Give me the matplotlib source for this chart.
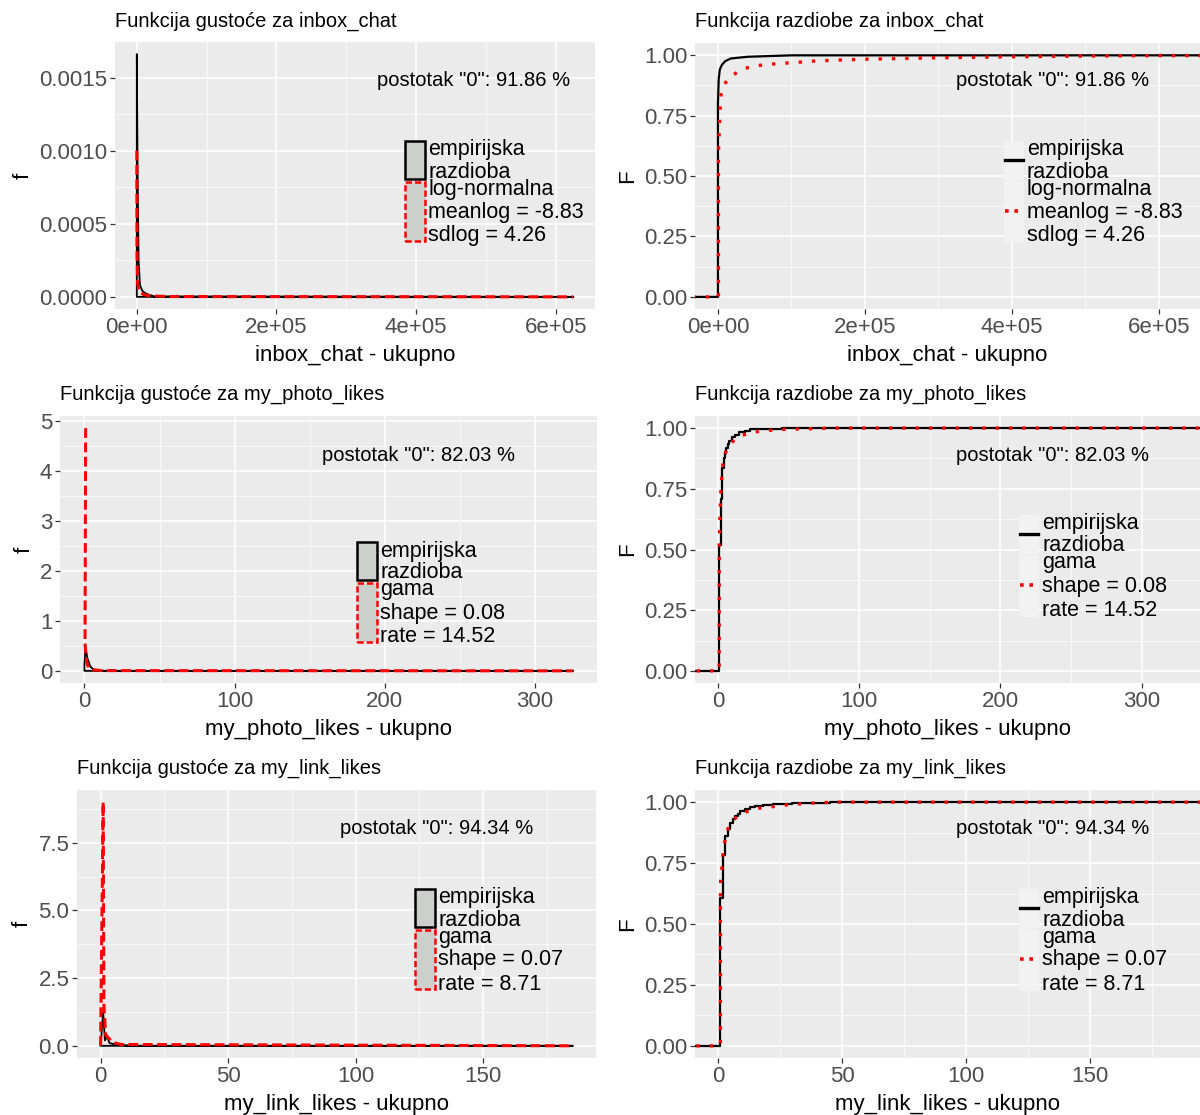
"""Gustoća i funkcija razdiobe za tri varijable (ggplot-like layout)."""
import matplotlib
matplotlib.use('Agg')
import matplotlib.pyplot as plt
from matplotlib.patches import Rectangle
from matplotlib.lines import Line2D

plt.rcParams['font.family'] = ['Liberation Sans', 'DejaVu Sans']

W, H = 1200, 1115

# ---- inbox_chat ----
inbox_dens_emp_x = [625000, 0, 0, 1000, 2500, 4500, 8000, 14000, 25000, 625000]
inbox_dens_emp_y = [0, 0, 0.00166, 0.0009, 0.00025, 0.00008, 0.00004, 0.00002, 0.000003, 0]
inbox_dens_fit_x = [0, 300, 1000, 2500, 5000, 10000, 20000, 50000, 625000]
inbox_dens_fit_y = [0.00100, 0.00030, 0.00010, 0.00005, 0.00003, 0.000015, 0.000006, 0.000002, 0]
inbox_cdf_emp_x = [-1e6, 0, 0, 1000, 2500, 5400, 10000, 17500, 40000, 100000, 1e7]
inbox_cdf_emp_y = [0, 0, 0.80, 0.90, 0.94, 0.96, 0.975, 0.986, 0.993, 0.999, 1.0]
inbox_cdf_fit_x = [-1e6, 700, 700, 3100, 4460, 8500, 16200, 26600, 37800, 52300, 67200,
                   82400, 98600, 129700, 161800, 200000, 300000, 400000, 500000, 600000, 1e7]
inbox_cdf_fit_y = [0, 0, 0.60, 0.79, 0.842, 0.879, 0.908, 0.930, 0.946, 0.956, 0.961,
                   0.965, 0.968, 0.975, 0.979, 0.983, 0.989, 0.993, 0.996, 0.998, 1.0]

# ---- my_photo_likes ----
photo_dens_emp_x = [325, 0, 0, 0.7, 2, 4, 6, 9, 14, 325]
photo_dens_emp_y = [0, 0, 0.12, 0.48, 0.25, 0.085, 0.03, 0.01, 0, 0]
photo_dens_fit_x = [0.8, 0.6, 0.4, 1.0, 2.0, 3.5, 6, 12, 325]
photo_dens_fit_y = [4.85, 2.5, 0.55, 0.3, 0.12, 0.05, 0.02, 0.005, 0]
photo_cdf_emp_x = [-100, 1, 2, 3, 4, 5, 6, 7, 8, 10, 12, 15, 19, 23, 30, 45, 400]
photo_cdf_emp_y = [0, 0.52, 0.71, 0.835, 0.875, 0.90, 0.92, 0.935, 0.948, 0.962, 0.972,
                   0.983, 0.99, 0.995, 0.998, 1.0, 1.0]
photo_cdf_fit_x = [-100, 0.9, 0.94, 1.4, 2.1, 2.6, 3.8, 6.9, 10.9, 16.3, 23.4, 30.5,
                   38.8, 47, 82, 400]
photo_cdf_fit_y = [0, 0, 0.53, 0.635, 0.74, 0.786, 0.878, 0.918, 0.947, 0.969, 0.982,
                   0.988, 0.992, 0.995, 1.0, 1.0]

# ---- my_link_likes ----
link_dens_emp_x = [185, 0, 1, 1.7, 2.5, 3.5, 6, 12, 185]
link_dens_emp_y = [0, 0, 1.25, 0.2, 0.35, 0.1, 0.05, 0, 0]
link_dens_fit_x = [0, 1, 1.3, 2, 3, 5, 8, 185]
link_dens_fit_y = [0, 9.0, 1.5, 0.4, 0.3, 0.12, 0.05, 0]
link_cdf_emp_x = [-100, 1, 2, 3, 4, 5, 6, 7, 8, 9, 11, 13, 15, 18, 22, 30, 45, 400]
link_cdf_emp_y = [0, 0.607, 0.785, 0.86, 0.89, 0.915, 0.93, 0.943, 0.953, 0.962, 0.973,
                  0.98, 0.985, 0.99, 0.994, 0.998, 1.0, 1.0]
link_cdf_fit_x = [-100, 1.0, 1.0, 1.1, 1.6, 2.0, 2.6, 3.4, 4.3, 6.2, 8.5, 11.5, 16.2,
                  22.4, 27.8, 37.1, 47.2, 400]
link_cdf_fit_y = [0, 0, 0.6, 0.681, 0.729, 0.784, 0.829, 0.868, 0.9, 0.927, 0.948, 0.961,
                  0.975, 0.982, 0.989, 0.996, 1.0, 1.0]

variables = ['inbox_chat', 'my_photo_likes', 'my_link_likes']
zero_pct = [91.86, 82.03, 94.34]
fit_labels = [['log-normalna', 'meanlog = -8.83', 'sdlog = 4.26'],
              ['gama', 'shape = 0.08', 'rate = 14.52'],
              ['gama', 'shape = 0.07', 'rate = 8.71']]
emp_label = ['empirijska', 'razdioba']

dens_xticks = [[0, 200000, 400000, 600000], [0, 100, 200, 300], [0, 50, 100, 150]]
dens_xticklabels = [['0e+00', '2e+05', '4e+05', '6e+05'], ['0', '100', '200', '300'],
                    ['0', '50', '100', '150']]
dens_yticks = [[0, 0.0005, 0.0010, 0.0015], [0, 1, 2, 3, 4, 5], [0, 2.5, 5.0, 7.5]]
dens_yticklabels = [['0.0000', '0.0005', '0.0010', '0.0015'], ['0', '1', '2', '3', '4', '5'],
                    ['0.0', '2.5', '5.0', '7.5']]
cdf_yticks = [0, 0.25, 0.5, 0.75, 1.0]
cdf_yticklabels = ['0.00', '0.25', '0.50', '0.75', '1.00']

BG = '#EBEBEB'


def box(x0, y0, x1, y1):
    return [x0 / W, 1 - y1 / H, (x1 - x0) / W, (y1 - y0) / H]


def minors(ticks, lo, hi):
    step = ticks[1] - ticks[0]
    out, v = [], ticks[0] - step / 2
    while v - step > lo:
        v -= step
    while v < hi:
        if lo < v < hi:
            out.append(v)
        v += step
    return out


def style(ax, xlim, ylim, xt, xtl, yt, ytl, xlabel, ylabel, title, title_pad):
    ax.set_facecolor(BG)
    for s in ax.spines.values():
        s.set_visible(False)
    ax.set_xlim(xlim)
    ax.set_ylim(ylim)
    ax.set_xticks(xt)
    ax.set_xticklabels(xtl)
    ax.set_yticks(yt)
    ax.set_yticklabels(ytl)
    ax.set_xticks(minors(xt, *xlim), minor=True)
    ax.set_yticks(minors(yt, *ylim), minor=True)
    ax.grid(which='major', color='white', lw=1.1)
    ax.grid(which='minor', color='white', lw=0.5)
    ax.set_axisbelow(True)
    ax.tick_params(which='minor', length=0)
    ax.tick_params(which='major', length=3.5, width=0.9, color='#333333',
                   labelcolor='#4D4D4D', labelsize=16, pad=2)
    ax.set_xlabel(xlabel, fontsize=16, labelpad=5)
    ax.set_ylabel(ylabel, fontsize=16, labelpad=4)
    ax.set_title(title, loc='left', fontsize=14.5, pad=title_pad)


def expand(lo, hi):
    d = (hi - lo) * 0.05
    return (lo - d, hi + d)


def legend(fig, key_left, y0, fit_lines, kind):
    # entry rows (pixel offsets from first line)
    emp_off = [0, 22]
    fit_off = [39, 62, 86]
    k1 = (y0 - 9, y0 + 29)
    k2 = (y0 + 31, y0 + 91)
    kw = 20

    def rect(top, bot, **kw_):
        return Rectangle((key_left / W, 1 - bot / H), kw / W, (bot - top) / H,
                         transform=fig.transFigure, **kw_)

    if kind == 'dens':
        fig.patches.append(rect(*k1, facecolor='#CDCFCD', edgecolor='black', lw=1.8))
        fig.patches.append(rect(k2[0] + 1, k2[1], facecolor='#CDCFCD', edgecolor='red',
                                lw=1.8, linestyle=(0, (2.5, 1.2))))
    else:
        fig.patches.append(rect(k1[0], k1[1] + 1, facecolor='#F2F2F2', edgecolor='none'))
        fig.patches.append(rect(k2[0], k2[1] + 2, facecolor='#F2F2F2', edgecolor='none'))
        ym = (k1[0] + k1[1]) / 2
        fig.lines.append(Line2D([(key_left + 1) / W, (key_left + kw - 1) / W],
                                [1 - ym / H] * 2, transform=fig.transFigure,
                                color='black', lw=2.4))
        ym = (k2[0] + k2[1]) / 2
        fig.lines.append(Line2D([(key_left + 1) / W, (key_left + kw - 1) / W],
                                [1 - ym / H] * 2, transform=fig.transFigure,
                                color='red', lw=2.6, dashes=(1, 1.6)))
    tx = (key_left + 23) / W
    for lab, off in zip(emp_label, emp_off):
        fig.text(tx, 1 - (y0 + off) / H, lab, fontsize=15.5, va='center', ha='left')
    for lab, off in zip(fit_lines, fit_off):
        fig.text(tx, 1 - (y0 + off) / H, lab, fontsize=15.5, va='center', ha='left')


fig = plt.figure(figsize=(W / 100, H / 100), dpi=100)

dens_data = [(inbox_dens_emp_x, inbox_dens_emp_y, inbox_dens_fit_x, inbox_dens_fit_y),
             (photo_dens_emp_x, photo_dens_emp_y, photo_dens_fit_x, photo_dens_fit_y),
             (link_dens_emp_x, link_dens_emp_y, link_dens_fit_x, link_dens_fit_y)]
cdf_data = [(inbox_cdf_emp_x, inbox_cdf_emp_y, inbox_cdf_fit_x, inbox_cdf_fit_y),
            (photo_cdf_emp_x, photo_cdf_emp_y, photo_cdf_fit_x, photo_cdf_fit_y),
            (link_cdf_emp_x, link_cdf_emp_y, link_cdf_fit_x, link_cdf_fit_y)]

# panel boxes in pixels: (left, top, right, bottom)
dens_boxes = [(115, 42, 595, 309), (60, 416, 597, 683), (77, 790, 596, 1058)]
cdf_boxes = [(695, 43, 1200, 309), (695, 416, 1200, 683), (695, 790, 1200, 1058)]
dens_legend = [(405, 150), (357, 551), (415, 898)]
cdf_legend = [(1004, 150), (1019, 524), (1019, 898)]
dens_note = [(474, 81), (419, 455), (437, 829)]
cdf_note = [(1053, 81), (1053, 455), (1053, 829)]

for i, var in enumerate(variables):
    ex, ey, fx_, fy_ = dens_data[i]
    xmax = max(ex)
    ymax = max(max(ey), max(fy_))
    ax = fig.add_axes(box(*dens_boxes[i]))
    ax.plot(ex, ey, color='black', lw=1.3, zorder=3)
    ax.plot(fx_, fy_, color='red', lw=2.2, dashes=(3.2, 1.5), zorder=4)
    style(ax, expand(0, xmax), expand(0, ymax), dens_xticks[i], dens_xticklabels[i],
          dens_yticks[i], dens_yticklabels[i], f'{var} - ukupno', 'f',
          f'Funkcija gustoće za {var}', 12 if i != 0 else 11)
    nx, ny = dens_note[i]
    fig.text(nx / W, 1 - ny / H, f'postotak "0": {zero_pct[i]:.2f} %', fontsize=14.5,
             ha='center', va='center')
    legend(fig, *dens_legend[i], fit_labels[i], 'dens')

    cx, cy, gx, gy = cdf_data[i]
    ax = fig.add_axes(box(*cdf_boxes[i]))
    ax.plot(cx, cy, color='black', lw=1.6, drawstyle='steps-post' if i > 0 else 'default',
            zorder=3)
    ax.plot(gx, gy, color='red', lw=2.4, dashes=(1, 3.0), zorder=4)
    style(ax, expand(0, xmax), (-0.05, 1.05), dens_xticks[i], dens_xticklabels[i],
          cdf_yticks, cdf_yticklabels, f'{var} - ukupno', 'F',
          f'Funkcija razdiobe za {var}', 12)
    nx, ny = cdf_note[i]
    fig.text(nx / W, 1 - ny / H, f'postotak "0": {zero_pct[i]:.2f} %', fontsize=14.5,
             ha='center', va='center')
    legend(fig, *cdf_legend[i], fit_labels[i], 'cdf')

fig.savefig('out.png', dpi=100, facecolor='white')
